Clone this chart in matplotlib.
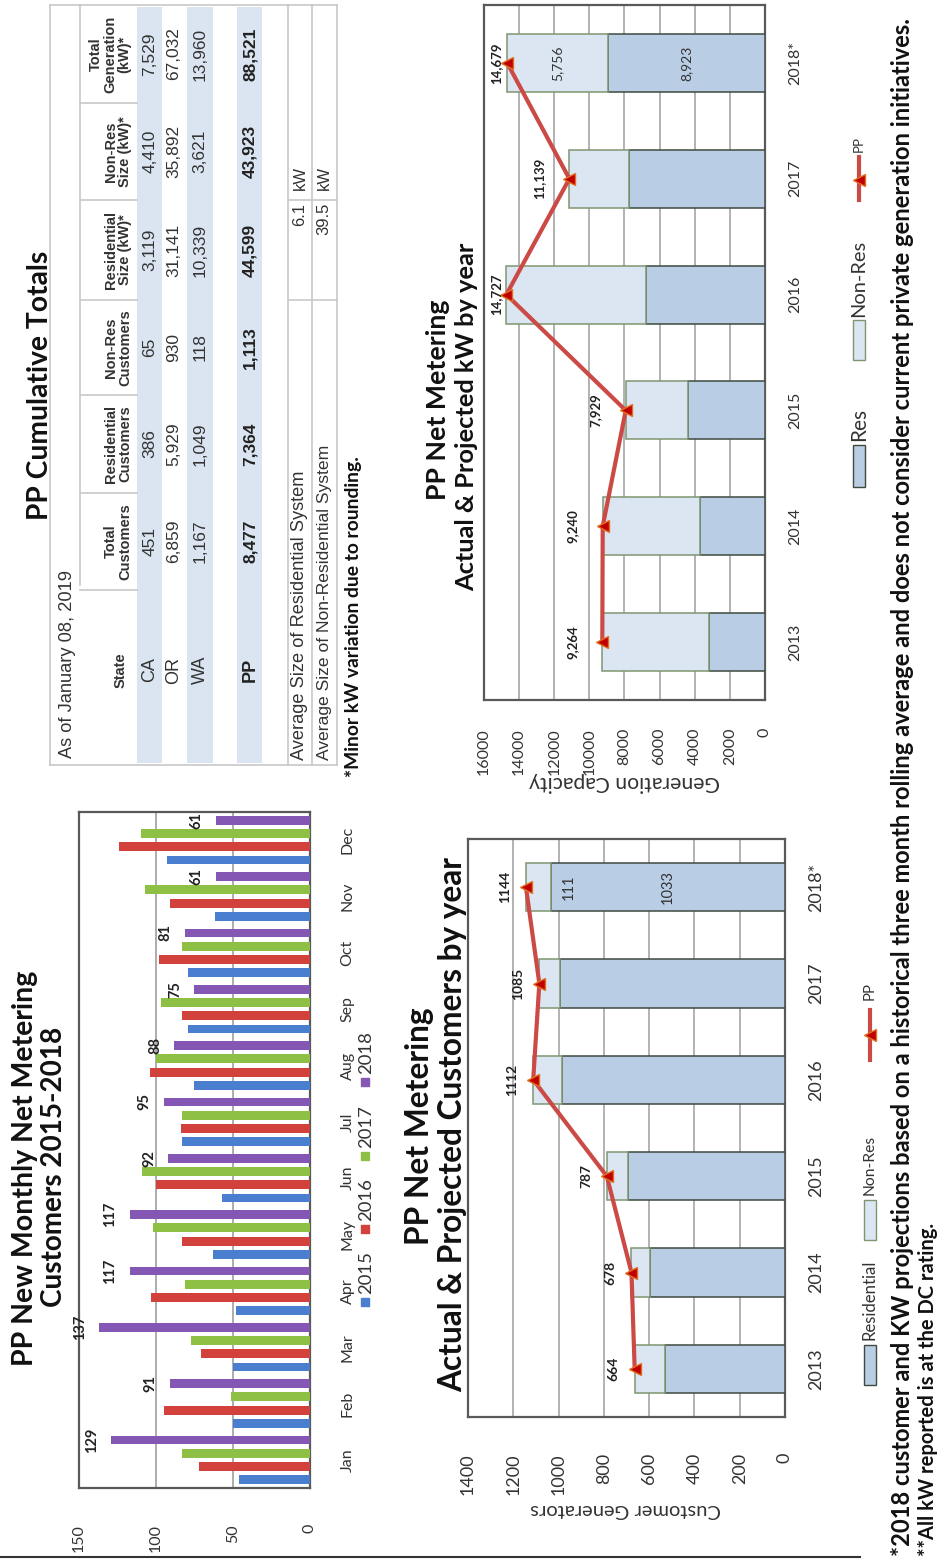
import matplotlib
matplotlib.use('Agg')
import matplotlib.pyplot as plt
from matplotlib.patches import Rectangle
from matplotlib.lines import Line2D
import numpy as np

plt.rcParams['font.family'] = ['Lato', 'DejaVu Sans']

# ---------------- data ----------------
months = ['Jan', 'Feb', 'Mar', 'Apr', 'May', 'Jun', 'Jul', 'Aug', 'Sep', 'Oct', 'Nov', 'Dec']
years_monthly = ['2015', '2016', '2017', '2018']
m2015 = [46, 50, 50, 48, 63, 57, 83, 75, 79, 79, 62, 93]
m2016 = [72, 95, 71, 103, 83, 100, 84, 104, 83, 98, 91, 124]
m2017 = [83, 51, 77, 81, 102, 109, 83, 100, 97, 83, 107, 110]
m2018 = [129, 91, 137, 117, 117, 92, 95, 88, 75, 81, 61, 61]

years = ['2013', '2014', '2015', '2016', '2017', '2018*']
cust_total = [664, 678, 787, 1112, 1085, 1144]
cust_res = [530, 596, 693, 985, 994, 1033]
cust_nonres = [134, 82, 94, 127, 91, 111]

years_kw = ['2013', '2014', '2015', '2016', '2017', '2018*']
kw_total = [9264, 9240, 7929, 14727, 11139, 14679]
kw_res = [3180, 3710, 4380, 6760, 7750, 8923]
kw_nonres = [6084, 5530, 3549, 7967, 3389, 5756]

states = ['CA', 'OR', 'WA']
tbl_total_cust = [451, 6859, 1167]
tbl_res_cust = [386, 5929, 1049]
tbl_nonres_cust = [65, 930, 118]
tbl_res_size = [3119, 31141, 10339]
tbl_nonres_size = [4410, 35892, 3621]
tbl_total_gen = [7529, 67032, 13960]
tbl_headers = ['State', 'Total\nCustomers', 'Residential\nCustomers', 'Non-Res\nCustomers',
               'Residential\nSize (kW)*', 'Non-Res\nSize (kW)*', 'Total\nGeneration\n(kW)*']
avg_res_kw = 6.1
avg_nonres_kw = 39.5

# ---------------- figure ----------------
W, H = 945, 1564
fig = plt.figure(figsize=(W / 100, H / 100), dpi=100)
fig.patch.set_facecolor('white')
renderer = fig.canvas.get_renderer()


def rect(x0, y0, x1, y1):
    return [x0 / W, 1 - y1 / H, (x1 - x0) / W, (y1 - y0) / H]


ov = fig.add_axes([0, 0, 1, 1])
ov.set_xlim(0, W)
ov.set_ylim(H, 0)
ov.axis('off')
ov.patch.set_alpha(0)


def txt(x, y, s, size, length=None, rot=90, ha='center', va='center', **kw):
    t = ov.text(x, y, s, fontsize=size, rotation=rot, ha=ha, va=va, **kw)
    if length:
        bb = t.get_window_extent(renderer)
        ext = bb.height if rot in (90, 270, -90) else bb.width
        t.set_fontsize(size * length / ext)
    return t


TABLE_FONT = ['Liberation Sans Narrow', 'Liberation Sans', 'DejaVu Sans']
FRAME = '#595959'
GRID = '#a6a6a6'

# ---------------- chart 1: monthly ----------------
ax1 = fig.add_axes(rect(79, 812, 310, 1488))
mcolors = ['#4a7fd0', '#d2413c', '#8fc046', '#8457b5']
pos = np.arange(len(months))
step, bh = 0.236, 0.155
for k, (vals, c) in enumerate(zip([m2015, m2016, m2017, m2018], mcolors)):
    ax1.barh(pos + (k - 1.5) * step, vals, height=bh, color=c, zorder=3)
for i, v in enumerate(m2018):
    ax1.annotate(str(v), (v, pos[i] + 1.5 * step), xytext=(-14, 0), textcoords='offset points',
                 rotation=90, ha='center', va='center', fontsize=10.5, fontweight='bold', color='#222222')
ax1.set_xlim(150, 0)
ax1.set_ylim(-0.5, 11.5)
ax1.set_xticks([0, 50, 100, 150])
ax1.set_yticks(pos)
ax1.set_yticklabels(months)
ax1.yaxis.tick_right()
ax1.set_axisbelow(True)
ax1.xaxis.grid(True, color=GRID, lw=1.3)
ax1.tick_params(axis='both', length=0, labelsize=11.5, colors='#333333')
ax1.tick_params(axis='x', pad=26, labelrotation=90)
ax1.tick_params(axis='y', pad=22)
for lab in ax1.get_yticklabels():
    lab.set_rotation(90); lab.set_va('center'); lab.set_ha('left')
for s in ax1.spines.values():
    s.set_color(FRAME); s.set_linewidth(1.6)

txt(25, 1168, 'PP New Monthly Net Metering', 18, length=397, fontweight='bold', color='#111111')
txt(54, 1167, 'Customers 2015-2018', 18, length=280, fontweight='bold', color='#111111')
for yc, c, lab in zip([1302, 1229, 1156, 1082], mcolors, years_monthly):
    ov.add_patch(Rectangle((361, yc - 4), 8, 8, color=c))
    txt(366, yc - 8, lab, 11, length=43, va='bottom', color='#333333')

# ---------------- chart 2: customers ----------------
RES_C, RES_E = '#b9cde5', '#3f4a3f'
NON_C, NON_E = '#dce6f2', '#7d9670'
LINE_C = '#cc4a45'

ax2 = fig.add_axes(rect(468, 839, 785, 1417))
y = np.arange(len(years))
ax2.barh(y, cust_res, height=0.5, color=RES_C, edgecolor=RES_E, lw=1.1, zorder=3)
ax2.barh(y, cust_nonres, left=cust_res, height=0.5, color=NON_C, edgecolor=NON_E, lw=1.1, zorder=3)
ax2.plot(cust_total, y, color=LINE_C, lw=3, marker='<', ms=9, mfc='#c00000', mec='#e07020', zorder=4)
for i, v in enumerate(cust_total):
    ax2.annotate(str(v), (v, y[i]), xytext=(-15, 0), textcoords='offset points', rotation=90,
                 ha='center', va='center', fontsize=10, fontweight='bold', color='#222222', zorder=5)
ax2.annotate(str(cust_nonres[-1]), (cust_res[-1], y[-1]), xytext=(13, 0), textcoords='offset points',
             rotation=90, ha='center', va='center', fontsize=10.5, color='#333333', zorder=5)
ax2.annotate(str(cust_res[-1]), (cust_res[-1] / 2, y[-1]), rotation=90, ha='center', va='center',
             fontsize=10.5, color='#333333', zorder=5)
ax2.set_xlim(1400, 0)
ax2.set_ylim(-0.5, 5.5)
ax2.set_xticks(np.arange(0, 1401, 200))
ax2.set_yticks(y)
ax2.set_yticklabels(years)
ax2.yaxis.tick_right()
ax2.set_axisbelow(True)
ax2.xaxis.grid(True, color=GRID, lw=1.2)
ax2.tick_params(axis='both', length=0, labelsize=13, colors='#333333')
ax2.tick_params(axis='x', pad=26, labelrotation=90)
ax2.tick_params(axis='y', pad=17)
for lab in ax2.get_yticklabels():
    lab.set_rotation(90); lab.set_va('center'); lab.set_ha('left')
for s in ax2.spines.values():
    s.set_color(FRAME); s.set_linewidth(1.6)

txt(420, 1126, 'PP Net Metering', 18, length=238, fontweight='bold', color='#111111')
txt(453, 1125, 'Actual & Projected Customers by year', 18, length=536, fontweight='bold', color='#111111')
txt(626, 1510, 'Customer Generators', 12, length=190, rot=180, color='#333333')
ov.add_patch(Rectangle((864, 1345), 12, 40, facecolor=RES_C, edgecolor=RES_E, lw=1))
txt(870, 1340, 'Residential', 12, length=80, va='bottom', color='#333333')
ov.add_patch(Rectangle((864, 1200), 12, 40, facecolor=NON_C, edgecolor=NON_E, lw=1))
txt(870, 1195, 'Non-Res', 12, length=60, va='bottom', color='#333333')
ov.add_line(Line2D([870, 870], [1010, 1060], color=LINE_C, lw=3))
ov.plot([870], [1035], marker='<', ms=9, mfc='#c00000', mec='#e07020')
txt(870, 1000, 'PP', 12, length=18, va='bottom', color='#333333')

# ---------------- chart 3: kW ----------------
ax3 = fig.add_axes(rect(484, 5, 765, 700))
y3 = np.arange(len(years_kw))
ax3.barh(y3, kw_res, height=0.5, color=RES_C, edgecolor=RES_E, lw=1.1, zorder=3)
ax3.barh(y3, kw_nonres, left=kw_res, height=0.5, color=NON_C, edgecolor=NON_E, lw=1.1, zorder=3)
ax3.plot(kw_total, y3, color=LINE_C, lw=3, marker='<', ms=9, mfc='#c00000', mec='#e07020', zorder=4)
for i, v in enumerate(kw_total):
    ax3.annotate(f'{v:,}', (min(v + 1700, 15300), y3[i]), rotation=90, ha='center', va='center',
                 fontsize=9.5, fontweight='bold', color='#222222', zorder=5)
ax3.annotate(f'{kw_nonres[-1]:,}', (kw_res[-1] + kw_nonres[-1] / 2, y3[-1]), rotation=90, ha='center',
             va='center', fontsize=10, color='#333333', zorder=5)
ax3.annotate(f'{kw_res[-1]:,}', (kw_res[-1] / 2, y3[-1]), rotation=90, ha='center', va='center',
             fontsize=10, color='#333333', zorder=5)
ax3.set_xlim(16000, 0)
ax3.set_ylim(-0.5, 5.5)
ax3.set_xticks(np.arange(0, 16001, 2000))
ax3.set_yticks(y3)
ax3.set_yticklabels(years_kw)
ax3.yaxis.tick_right()
ax3.set_axisbelow(True)
ax3.xaxis.grid(True, color=GRID, lw=1.2)
ax3.tick_params(axis='both', length=0, labelsize=11.5, colors='#333333')
ax3.tick_params(axis='x', pad=20, labelrotation=90)
ax3.tick_params(axis='y', pad=17)
for lab in ax3.get_yticklabels():
    lab.set_rotation(90); lab.set_va('center'); lab.set_ha('left')
for s in ax3.spines.values():
    s.set_color(FRAME); s.set_linewidth(1.6)

txt(438, 400, 'PP Net Metering', 18, length=200, fontweight='bold', color='#111111')
txt(467, 417, 'Actual & Projected kW by year', 18, length=349, fontweight='bold', color='#111111')
txt(625, 782, 'Generation Capacity', 12, length=190, rot=180, color='#333333')
ov.add_patch(Rectangle((853, 445), 12, 42, facecolor=RES_C, edgecolor=RES_E, lw=1))
txt(859, 441, 'Res', 11, length=33, va='bottom', color='#333333')
ov.add_patch(Rectangle((853, 320), 12, 40, facecolor=NON_C, edgecolor=NON_E, lw=1))
txt(859, 317, 'Non-Res', 11, length=77, va='bottom', color='#333333')
ov.add_line(Line2D([859, 859], [157, 200], color=LINE_C, lw=3))
ov.plot([859], [180], marker='<', ms=9, mfc='#c00000', mec='#e07020')
txt(859, 152, 'PP', 11, length=16, va='bottom', color='#333333')

# ---------------- table ----------------
SHADE = '#dbe5f1'
LN = '#c8c8c8'
tx0, tx1, ty0, ty1 = 50, 337, 5, 765
row_bands = [(137, 162), (162, 187), (187, 213), (213, 237), (237, 262), (262, 288)]
shaded = [True, False, True, False, True, False]
for (a, b), sh in zip(row_bands, shaded):
    if sh:
        ov.add_patch(Rectangle((a, ty0 + 2), b - a, ty1 - ty0 - 4, color=SHADE, lw=0))
for xx in [tx0, 288, 312, tx1]:
    ov.add_line(Line2D([xx, xx], [ty0, ty1], color=LN, lw=1.2))
ov.add_line(Line2D([80, 80], [ty0, 585], color=LN, lw=1.2))
ov.add_line(Line2D([tx0, tx1], [ty0, ty0], color=LN, lw=1.2))
ov.add_line(Line2D([tx0, tx1], [ty1, ty1], color=LN, lw=1.2))
col_edges = [765, 590, 493, 395, 300, 200, 103, 5]
for ye in col_edges[1:-1]:
    ov.add_line(Line2D([80, 137], [ye, ye], color=LN, lw=1.2))
for ye in [200, 300]:
    ov.add_line(Line2D([288, tx1], [ye, ye], color=LN, lw=1.2))
col_centers = [(col_edges[i] + col_edges[i + 1]) / 2 for i in range(7)]
col_centers[0] = 670
hdr_x = [121, 118, 118, 118, 118, 118, 110]

txt(40, 385, 'PP Cumulative Totals', 16, length=270, fontweight='bold', color='#111111')
txt(68, 758, 'As of January 08, 2019', 11, length=188, va='bottom', color='#333333', family=TABLE_FONT)
for hdr, yc, hx in zip(tbl_headers, col_centers, hdr_x):
    txt(hx, yc, hdr, 10.5, rot=90, fontweight='bold', color='#333333', family=TABLE_FONT,
        multialignment='center', linespacing=1.0)

cols = [tbl_total_cust, tbl_res_cust, tbl_nonres_cust, tbl_res_size, tbl_nonres_size, tbl_total_gen]
row_x = [150, 174, 200]
for r, st in enumerate(states):
    txt(row_x[r], col_centers[0], st, 13, color='#333333', family=TABLE_FONT)
    for c, colv in enumerate(cols):
        txt(row_x[r], col_centers[c + 1], f'{colv[r]:,}', 12.5, color='#333333', family=TABLE_FONT)
txt(250, col_centers[0], 'PP', 13, fontweight='bold', color='#222222', family=TABLE_FONT)
for c, colv in enumerate(cols):
    txt(250, col_centers[c + 1], f'{sum(colv):,}', 12.5, fontweight='bold', color='#222222',
        family=TABLE_FONT)
txt(300, 760, 'Average Size of Residential System', 11, length=290, va='bottom', color='#333333',
    family=TABLE_FONT)
txt(324, 760, 'Average Size of Non-Residential System', 11, length=315, va='bottom', color='#333333',
    family=TABLE_FONT)
txt(300, 203, f'{avg_res_kw}', 12, va='top', color='#333333', family=TABLE_FONT)
txt(324, 203, f'{avg_nonres_kw}', 12, va='top', color='#333333', family=TABLE_FONT)
txt(300, 190, 'kW', 12, va='bottom', color='#333333', family=TABLE_FONT)
txt(324, 190, 'kW', 12, va='bottom', color='#333333', family=TABLE_FONT)
txt(354, 777, '*Minor kW variation due to rounding.', 11, length=320, va='bottom', fontweight='bold',
    color='#111111')

# ---------------- footnotes & rule ----------------
ov.add_line(Line2D([0, 860], [1557, 1557], color='#333333', lw=1.5))
txt(903, 1556, '*2018 customer and KW projections based on a historical three month rolling average and '
    'does not consider current private generation initiatives.', 12, length=1536, va='bottom',
    fontweight='bold', color='#111111')
txt(928, 1556, '**All kW reported is at the DC rating.', 12, length=330, va='bottom',
    fontweight='bold', color='#111111')

fig.savefig('out.png', dpi=100, facecolor='white')
